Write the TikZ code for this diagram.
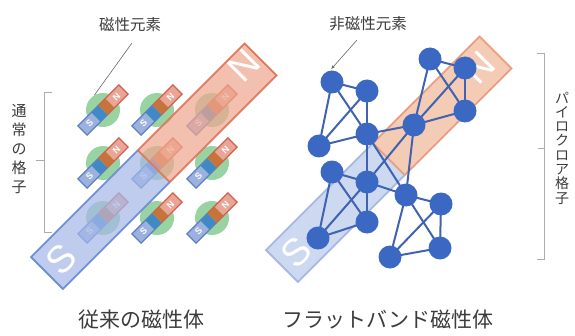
\documentclass[tikz,border=0pt]{standalone}
\usepackage{fontspec}
\newfontfamily\jp{Noto Sans CJK JP}
\newfontfamily\lat{Liberation Sans}
\usetikzlibrary{arrows.meta}

\definecolor{textgray}{HTML}{3C3C3C}
\definecolor{sitegreen}{HTML}{8CCF98}
\definecolor{magS}{HTML}{9DB1DF}
\definecolor{magSedge}{HTML}{5F7FC2}
\definecolor{magB}{HTML}{3F89C4}
\definecolor{magO}{HTML}{C7733C}
\definecolor{magN}{HTML}{E9A596}
\definecolor{magNedge}{HTML}{D2604C}
\definecolor{barS}{HTML}{A6B9E8}
\definecolor{barSedge}{HTML}{7190D4}
\definecolor{barN}{HTML}{EFA78F}
\definecolor{barNedge}{HTML}{DF7960}
\definecolor{lbarS}{HTML}{C4D1EF}
\definecolor{lbarSedge}{HTML}{A7B9E3}
\definecolor{lbarN}{HTML}{F2C2A8}
\definecolor{lbarNedge}{HTML}{EA9E7E}
\definecolor{ionblue}{HTML}{3A68C2}
\definecolor{bondblue}{HTML}{3F63AE}

\tikzset{
  site/.style={circle, fill=sitegreen, fill opacity=0.9, minimum size=34pt, inner sep=0pt},
  ion/.style={circle, fill=ionblue, minimum size=23pt, inner sep=0pt},
  bond/.style={draw=bondblue, line width=2pt},
  bracket/.style={draw=gray!65, line width=0.8pt},
  pointer/.style={draw=gray!80!black, line width=0.6pt},
  toplabel/.style={text=textgray, font=\jp\fontsize{15.5}{15.5}\selectfont},
  caption/.style={text=textgray, font=\jp\fontsize{21}{21}\selectfont},
  bigletter/.style={text=white, transform shape, inner sep=0pt, font=\lat\fontsize{38}{38}\selectfont},
  smallletter/.style={text=white, transform shape, inner sep=0pt, font=\lat\bfseries\fontsize{9}{9}\selectfont},
  smag/.pic={
    \fill[magS] (-29,-6.5) rectangle (-10,6.5);
    \fill[magB] (-10,-6.5) rectangle (0,6.5);
    \fill[magO] (0,-6.5) rectangle (10,6.5);
    \fill[magN] (10,-6.5) rectangle (29,6.5);
    \draw[magSedge, line width=1.2pt] (0,-6.5) -- (-29,-6.5) -- (-29,6.5) -- (0,6.5);
    \draw[magNedge, line width=1.2pt] (0,-6.5) -- (29,-6.5) -- (29,6.5) -- (0,6.5);
    \node[smallletter] at (-19,0) {S};
    \node[smallletter] at (19,0) {N};
  }
}

\begin{document}
\begin{tikzpicture}[x=1pt, y=1pt]
\useasboundingbox (0,0) rectangle (575,335);

% ---------- ordinary lattice: 3x3 magnetic sites ----------
\foreach \r/\y in {1/225, 2/172, 3/117}{
  \foreach \c/\x in {1/103, 2/157, 3/212}{
    \node[site] (m\r\c) at (\x,\y) {};
    \pic[rotate=45] at (m\r\c) {smag};
  }
}

% large bar magnet across the ordinary lattice
\begin{scope}[shift={(47,62)}, rotate=45]
  \fill[barN, fill opacity=0.72] (151,-22.5) rectangle (302,22.5);
  \fill[barS, fill opacity=0.72] (0,-22.5) rectangle (151,22.5);
  \draw[barNedge, line width=1.8pt] (151,-22.5) rectangle (302,22.5);
  \draw[barSedge, line width=1.8pt] (151,22.5) -- (0,22.5) -- (0,-22.5) -- (151,-22.5);
  \node[bigletter] (bigS1) at (20,0) {S};
  \node[bigletter] (bigN1) at (286,8) {N};
\end{scope}

% ---------- pyrochlore lattice ----------
\begin{scope}[shift={(282,69)}, rotate=45]
  \fill[lbarN, fill opacity=0.85] (151,-22.5) rectangle (302,22.5);
  \fill[lbarS, fill opacity=0.85] (0,-22.5) rectangle (151,22.5);
  \draw[lbarNedge, line width=1.8pt] (151,-22.5) rectangle (302,22.5);
  \draw[lbarSedge, line width=1.8pt] (151,22.5) -- (0,22.5) -- (0,-22.5) -- (151,-22.5);
  \node[bigletter] (bigS2) at (20,0) {S};
  \node[bigletter] (bigN2) at (279,1) {N};
\end{scope}

\coordinate (A) at (332,253);
\coordinate (B) at (367,244);
\coordinate (C) at (319,189);
\coordinate (D) at (367,201);
\coordinate (E) at (430,276);
\coordinate (F) at (465,267);
\coordinate (G) at (414,210);
\coordinate (H) at (465,224);
\coordinate (I) at (332,163);
\coordinate (J) at (367,153);
\coordinate (K) at (406,140);
\coordinate (L) at (441,131);
\coordinate (M) at (367,113);
\coordinate (N) at (318,97);
\coordinate (O) at (390,78);
\coordinate (P) at (440,87);

% corner-sharing tetrahedra
\foreach \a/\b in {A/B,A/C,A/D,B/C,B/D,C/D,
                   E/F,E/G,E/H,F/G,F/H,G/H,
                   D/G,D/J,D/K,G/J,G/K,J/K,
                   I/J,I/M,I/N,J/M,J/N,M/N,
                   K/L,K/O,K/P,L/O,L/P,O/P}{
  \draw[bond] (\a) -- (\b);
}
\foreach \n in {A,B,C,D,E,F,G,H,I,J,K,L,M,N,O,P}{
  \node[ion] (s\n) at (\n) {};
}

% ---------- labels ----------
\node[toplabel] (maglabel) at (130,310) {磁性元素};
\coordinate (magtail) at (132,292);
\draw[pointer] (magtail) -- (m11.120);

\node[toplabel] (nonmaglabel) at (368,311) {非磁性元素};
\coordinate (nonmagtail) at (357,295);
\draw[pointer, -{Stealth[length=4pt, width=3pt]}, shorten >=2pt] (nonmagtail) -- (sA.100);

% brackets with vertical captions
\draw[bracket] (52,243) -- (44,243) -- (44,103) -- (52,103);
\draw[bracket] (44,175) -- (36,175);
\node[text=textgray, font=\jp\fontsize{15}{19}\selectfont, align=center] (ordlabel) at (19,186) {通\\常\\の\\格\\子};

\draw[bracket] (537,282) -- (544,282) -- (544,76) -- (537,76);
\draw[bracket] (544,187) -- (538,187);
\node[text=textgray, font=\jp\fontsize{14}{14.3}\selectfont, align=center] (pyrolabel) at (562,187) {パ\\イ\\ロ\\ク\\ロ\\ア\\格\\子};

\node[caption] (cap1) at (141,15) {従来の磁性体};
\node[caption] (cap2) at (388,15) {フラットバンド磁性体};
\end{tikzpicture}
\end{document}
